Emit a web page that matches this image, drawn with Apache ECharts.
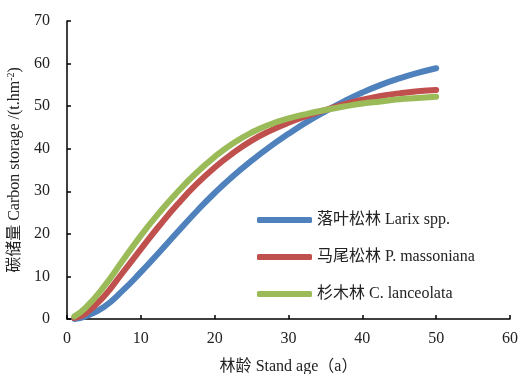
<!DOCTYPE html>
<html><head><meta charset="utf-8">
<script src="https://cdn.jsdelivr.net/npm/echarts@6/dist/echarts.min.js"></script>
<style>html,body{margin:0;padding:0;background:#fff}#c{width:520px;height:374px}</style>
</head><body><div id="c"></div>
<script>
const ages = [1, 2.5, 5, 7.5, 10, 12.5, 15, 17.5, 20, 22.5, 25, 27.5, 30, 32.5, 35, 37.5, 40, 42.5, 45, 47.5, 50];
const larix = [0.0, 0.6, 2.8, 6.6, 11.0, 15.7, 20.5, 25.2, 29.6, 33.6, 37.2, 40.5, 43.5, 46.3, 48.8, 51.1, 53.2, 55.0, 56.5, 57.8, 58.9];
const massoniana = [0.2, 1.3, 5.3, 10.8, 16.4, 21.9, 27.0, 31.6, 35.6, 39.0, 41.9, 44.2, 46.1, 47.7, 49.1, 50.4, 51.5, 52.4, 53.0, 53.5, 53.8];
const lanceolata = [0.6, 2.6, 7.6, 13.6, 19.6, 25.0, 29.9, 34.3, 38.1, 41.3, 43.8, 45.7, 47.1, 48.2, 49.1, 49.9, 50.6, 51.1, 51.6, 51.9, 52.2];
const seriesNames = ['落叶松林 Larix spp.', '马尾松林 P. massoniana', '杉木林 C. lanceolata'];
const colors = ['#4F81BD', '#C0504D', '#9BBB59'];
const xTicks = {min: 0, max: 60, interval: 10};
const yTicks = {min: 0, max: 70, interval: 10};

const font = "'Times New Roman','Liberation Serif','Noto Sans CJK SC',serif";
const pair = (xs, ys) => xs.map((x, i) => [x, ys[i]]);
const allData = [larix, massoniana, lanceolata];

const chart = echarts.init(document.getElementById('c'), null, {renderer: 'canvas'});
chart.setOption({
  animation: false,
  backgroundColor: '#fff',
  grid: {left: 67, right: 10, top: 21, bottom: 55, containLabel: false, outerBoundsMode: 'none'},
  xAxis: {
    type: 'value', min: xTicks.min, max: xTicks.max, interval: xTicks.interval,
    name: '林龄 Stand age（a）', nameLocation: 'middle', nameGap: 40,
    nameTextStyle: {fontFamily: font, fontSize: 16, color: '#222'},
    axisLine: {show: true, lineStyle: {color: '#000', width: 1.5}},
    axisTick: {show: true, inside: true, length: 4, lineStyle: {color: '#000', width: 1.5}},
    axisLabel: {fontFamily: font, fontSize: 16, color: '#222', margin: 12},
    splitLine: {show: false}
  },
  yAxis: {
    type: 'value', min: yTicks.min, max: yTicks.max, interval: yTicks.interval,
    name: '{a|碳储量 Carbon storage /(t.hm}{s|-2}{a|)}', nameLocation: 'middle', nameGap: 40,
    nameRotate: 90,
    nameTextStyle: {
      fontFamily: font, color: '#222',
      rich: {
        a: {fontFamily: font, fontSize: 16, color: '#222', lineHeight: 18},
        s: {fontFamily: font, fontSize: 10, color: '#222', verticalAlign: 'top', lineHeight: 10, padding: [0, 0, 6, 0]}
      }
    },
    axisLine: {show: true, lineStyle: {color: '#000', width: 1.5}},
    axisTick: {show: true, inside: true, length: 4, lineStyle: {color: '#000', width: 1.5}},
    axisLabel: {fontFamily: font, fontSize: 16, color: '#222', margin: 17},
    splitLine: {show: false}
  },
  legend: {
    orient: 'vertical', left: 252, top: 207, itemGap: 21,
    itemWidth: 55, itemHeight: 6, icon: 'roundRect',
    textStyle: {fontFamily: font, fontSize: 16, color: '#222'},
    data: seriesNames
  },
  series: seriesNames.map((n, i) => ({
    name: n, type: 'line', smooth: true, showSymbol: false, symbol: 'none',
    data: pair(ages, allData[i]),
    color: colors[i],
    lineStyle: {width: 6, color: colors[i], cap: 'round', join: 'round'}
  }))
});
</script></body></html>
